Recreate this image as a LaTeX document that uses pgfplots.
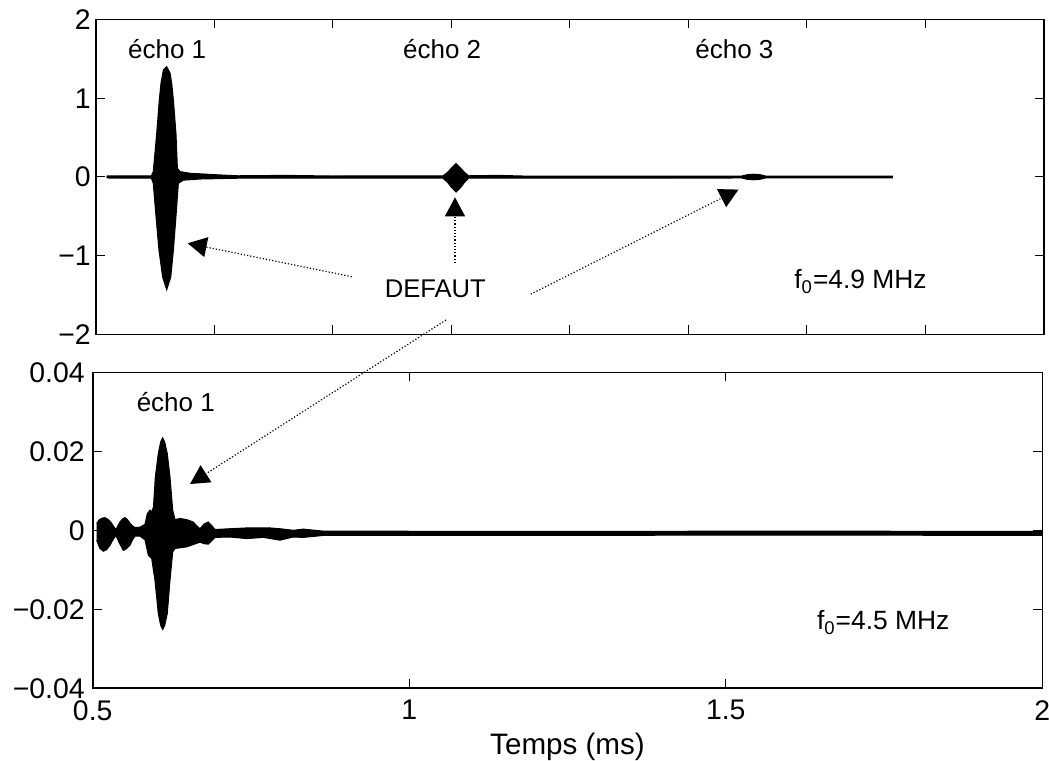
\documentclass[border=0pt]{standalone}
\usepackage{fontspec}
\setmainfont{Liberation Sans}
\usepackage{pgfplots}
\pgfplotsset{compat=1.18}
\usepgfplotslibrary{fillbetween}
\usetikzlibrary{arrows.meta}

\begin{document}
\begin{tikzpicture}
\pgfplotsset{
  every axis/.append style={
    scale only axis, tick align=inside, xtick pos=both, ytick pos=both,
    major tick length=4.5pt,
    axis line style={line width=0.8pt},
    every tick/.style={black, line width=0.5pt},
    tick label style={font=\fontsize{14.2}{17}\selectfont},
    xticklabel style={yshift=-2.5pt},
    scaled ticks=false,
    clip=false,
  }
}
\tikzset{arr/.style={densely dotted, line width=0.6pt, -{Triangle[length=9.5pt,width=10pt]}}}
% ---------------- top panel ----------------
\begin{axis}[at={(47.85pt,212.75pt)}, anchor=south west, width=474.15pt, height=157.5pt,
  xmin=0, xmax=8, ymin=-2, ymax=2,
  xtick={1,2,3,4,5,6,7}, xticklabels={},
  ytick={-2,-1,0,1,2}, yticklabels={−2,−1,0,1,2},
  yticklabel style={xshift=1pt}]
\addplot[name path=tu, black, line width=0.55pt] coordinates {
(0.093,0.012) (0.47,0.015) (0.486,0.068) (0.515,0.555) (0.537,0.98) (0.551,1.19)
(0.571,1.36) (0.599,1.40) (0.627,1.32) (0.641,1.19) (0.655,0.98) (0.677,0.55)
(0.689,0.11) (0.711,0.068) (0.796,0.047) (0.88,0.04) (0.99,0.03) (1.2,0.015)
(1.6,0.02) (2.0,0.012) (2.5,0.015) (2.93,0.015) (2.97,0.06) (3.0,0.11) (3.04,0.17)
(3.08,0.11) (3.11,0.06) (3.145,0.015) (3.4,0.02) (3.6,0.012) (4.5,0.012)
(5.45,0.012) (5.50,0.03) (5.55,0.035) (5.60,0.03) (5.65,0.012) (6.725,0.012)};
\addplot[name path=tl, black, line width=0.55pt] coordinates {
(0.093,-0.012) (0.47,-0.015) (0.486,-0.08) (0.509,-0.50) (0.534,-0.93) (0.565,-1.27)
(0.599,-1.43) (0.633,-1.27) (0.655,-0.93) (0.677,-0.50) (0.697,-0.08) (0.739,-0.04)
(0.88,-0.025) (1.2,-0.015) (2.93,-0.015) (2.97,-0.07) (3.0,-0.13) (3.04,-0.19)
(3.08,-0.13) (3.11,-0.07) (3.145,-0.015) (5.45,-0.012) (5.5,-0.03) (5.55,-0.035)
(5.6,-0.03) (5.65,-0.012) (6.725,-0.012)};
\addplot[black] fill between[of=tu and tl];
\node[anchor=base, font=\fontsize{13}{15}\selectfont] at (axis cs:0.603,1.507) {écho 1};
\node[anchor=base, font=\fontsize{13}{15}\selectfont] at (axis cs:2.923,1.507) {écho 2};
\node[anchor=base, font=\fontsize{13}{15}\selectfont] at (axis cs:5.388,1.507) {écho 3};
\node[anchor=base, font=\fontsize{12.8}{15}\selectfont] at (axis cs:2.865,-1.528) {DEFAUT};
\node[anchor=base west, inner sep=0pt, font=\fontsize{13.2}{15}\selectfont] at (axis cs:5.891,-1.416) {f\textsubscript{0}=4.9 MHz};
\draw[arr] (axis cs:2.160,-1.266) -- (axis cs:0.776,-0.842);
\draw[arr] (axis cs:3.031,-1.092) -- (axis cs:3.031,-0.258);
\draw[arr] (axis cs:3.670,-1.488) -- (axis cs:5.423,-0.160);
\coordinate (a4s) at (axis cs:2.955,-1.816);
\end{axis}
% ---------------- bottom panel ----------------
\begin{axis}[at={(46.35pt,35.85pt)}, anchor=south west, width=474.8pt, height=158pt,
  xmin=0.5, xmax=2, ymin=-0.04, ymax=0.04,
  xtick={0.5,1,1.5,2}, xticklabels={0.5,1,1.5,2},
  ytick={-0.04,-0.02,0,0.02,0.04}, yticklabels={−0.04,−0.02,0,0.02,0.04},
  yticklabel style={xshift=-0.5pt},
  xlabel={Temps (ms)},
  xlabel style={font=\fontsize{14.8}{17}\selectfont, at={(axis description cs:0.5,0)}, anchor=base, yshift=-33pt}]
\addplot[name path=bu, black, line width=0.5pt] coordinates {
(0.5063,0.0017) (0.5105,0.0027) (0.515,0.0031) (0.5194,0.0032) (0.524,0.0028)
(0.5284,0.0021) (0.533,0.0010) (0.5368,0.0002) (0.540,0.0012) (0.5431,0.0021)
(0.547,0.0029) (0.5510,0.0032) (0.555,0.0027) (0.5589,0.0018) (0.563,0.0011)
(0.5668,0.0007) (0.5747,0.0008)
(0.5826,0.0015) (0.5862,0.0042) (0.5905,0.0051) (0.5935,0.0047) (0.5960,0.0060)
(0.5989,0.0135) (0.6036,0.0194) (0.6074,0.0224) (0.6106,0.0234) (0.6137,0.0224)
(0.6178,0.0194) (0.6221,0.0135) (0.6264,0.0051) (0.6300,0.0027) (0.6379,0.0030)
(0.6485,0.0027) (0.6589,0.0021) (0.6640,0.0012) (0.6695,0.0004) (0.6760,0.0016)
(0.6826,0.0021) (0.6880,0.0012) (0.6932,0.0002)
(0.7169,0.0004) (0.7432,0.0006) (0.7800,0.0006) (0.7958,0.0004) (0.8169,0.0)
(0.8326,0.0003) (0.8642,-0.0002) (1.2,-0.0003) (1.6,-0.0002) (2.0,-0.0003)};
\addplot[name path=bl, black, line width=0.5pt] coordinates {
(0.5063,-0.0025) (0.511,-0.0045) (0.5167,-0.0053) (0.522,-0.0049) (0.5273,-0.0038)
(0.532,-0.0024) (0.5368,-0.0013) (0.542,-0.0032) (0.5484,-0.0051) (0.553,-0.0047)
(0.5589,-0.0038) (0.563,-0.0024) (0.5668,-0.0015) (0.5747,-0.0015) (0.5826,-0.0024)
(0.5878,-0.0063) (0.5932,-0.0072) (0.5984,-0.0127) (0.6036,-0.0211) (0.6074,-0.0241)
(0.6106,-0.0251) (0.6137,-0.0241) (0.6178,-0.0211) (0.6221,-0.0127) (0.6264,-0.0055)
(0.6300,-0.0046) (0.6485,-0.0042) (0.6695,-0.0030) (0.6760,-0.0034) (0.6826,-0.0035)
(0.6932,-0.0018) (0.7169,-0.0017)
(0.7432,-0.0021) (0.7695,-0.0018) (0.7958,-0.0025) (0.8169,-0.0017) (0.8326,-0.0018)
(0.8642,-0.0013) (1.2,-0.0013) (1.6,-0.0012) (2.0,-0.0013)};
\addplot[black] fill between[of=bu and bl];
\node[anchor=base, font=\fontsize{13}{15}\selectfont] at (axis cs:0.6313,0.0302) {écho 1};
\node[anchor=base west, inner sep=0pt, font=\fontsize{13.2}{15}\selectfont] at (axis cs:1.6436,-0.02524) {f\textsubscript{0}=4.5 MHz};
\coordinate (a4e) at (axis cs:0.6537,0.01172);
\end{axis}
\draw[arr] (a4s) -- (a4e);
\pgfresetboundingbox
\useasboundingbox (0,0) rectangle (524.5pt,380pt);
\end{tikzpicture}
\end{document}
